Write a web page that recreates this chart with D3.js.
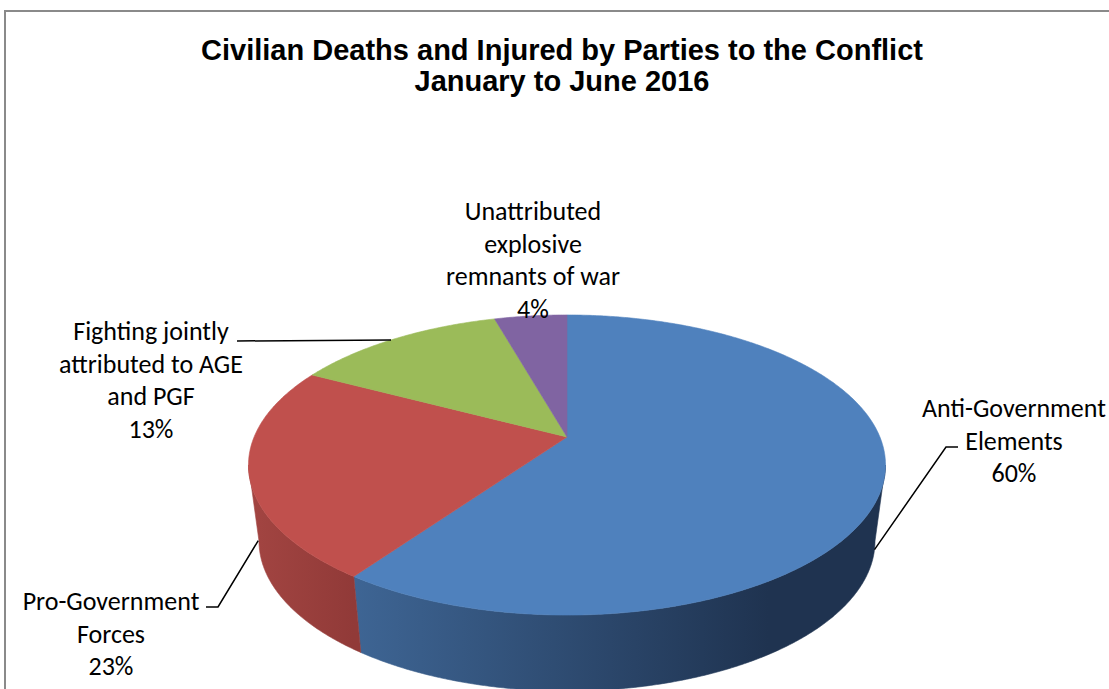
<!DOCTYPE html>
<html>
<head>
<meta charset="utf-8">
<script src="https://cdn.jsdelivr.net/npm/d3@7/dist/d3.min.js"></script>
<style>
  body { margin: 0; background: #fff; }
  svg { display: block; }
</style>
</head>
<body>
<div id="chart"></div>
<script>
// chart data
const titleLines = ["Civilian Deaths and Injured by Parties to the Conflict", "January to June 2016"];
const categories = ["Anti-Government Elements", "Pro-Government Forces",
  "Fighting jointly attributed to AGE and PGF", "Unattributed explosive remnants of war"];
const shares = [59.8, 22.9, 12.9, 4.4];
const labelLines = [
  ["Anti-Government", "Elements"],
  ["Pro-Government", "Forces"],
  ["Fighting jointly", "attributed to AGE", "and PGF"],
  ["Unattributed", "explosive", "remnants of war"]
];

// styling
const topColors = ["#4f81bd", "#c0504d", "#9bbb59", "#8064a2"];
const wallColors = [["#3e6594", "#1f3350"], ["#a34542", "#913a38"], ["#7d9847", "#7d9847"], ["#65508a", "#65508a"]];

// label layout: text centre/first baseline, leader polyline start and pie anchor (deg, radius, wall fraction)
const labelLayout = [
  { x: 1014, y: 417, lead: [[958, 447], [946, 447]], anchor: { deg: 104, r: 1, wall: 1 } },
  { x: 111, y: 610, lead: [[206, 607], [218, 607]], anchor: { deg: 256, r: 1, wall: 0.88 } },
  { x: 151, y: 340, lead: [[237, 341]], anchor: { deg: 320, r: 1, wall: 0 } },
  { x: 533, y: 220, lead: [], anchor: null }
];

const width = 1109, height = 689;
const lineGap = 32.5;

// 3D view of the pie (perspective on the top disc)
const cx = 567, cy = 437;
const F = 1485.7, D = 4.748;
const sinA = 0.4628, cosA = 0.8865;
const wallH = 76, wallShrink = 0.967;

function project(a, r) {
  const X = r * Math.sin(a), Y = r * Math.cos(a);
  const depth = D + Y * cosA;
  return [cx + F * X / depth, cy - F * (Y * sinA) / depth];
}
function projectWall(a, f) {
  const p = project(a, 1);
  return [p[0] + (cx - p[0]) * (1 - wallShrink) * f, p[1] + wallH * f];
}

const svg = d3.select("#chart").append("svg")
  .attr("width", width)
  .attr("height", height);

// chart area frame (runs off the right and bottom of the picture)
svg.append("rect")
  .attr("x", 5).attr("y", 11)
  .attr("width", 1200).attr("height", 800)
  .attr("fill", "#fff")
  .attr("stroke", "#8a8a8a")
  .attr("stroke-width", 2);

// title
svg.append("g").selectAll("text")
  .data(titleLines)
  .join("text")
  .attr("x", 562)
  .attr("y", (d, i) => 60 + i * 31)
  .attr("text-anchor", "middle")
  .style("font-family", "'Liberation Sans', Arial, sans-serif")
  .style("font-weight", "bold")
  .style("font-size", "29px")
  .text(d => d);

const pie = d3.pie().sort(null).value(d => d);
const arcs = pie(shares);
const total = d3.sum(shares);

const step = Math.PI / 360;
function sampleAngles(a0, a1) {
  const n = Math.max(2, Math.ceil((a1 - a0) / step));
  return d3.range(n + 1).map(i => a0 + (a1 - a0) * i / n);
}

// front wall is visible where the top rim faces the viewer
const aMin = Math.acos(-(cosA / D)), aMax = 2 * Math.PI - aMin;

const defs = svg.append("defs");
const walls = svg.append("g");
arcs.forEach((d, i) => {
  const a0 = Math.max(d.startAngle, aMin), a1 = Math.min(d.endAngle, aMax);
  if (a1 <= a0) return;
  const angles = sampleAngles(a0, a1);
  const topPts = angles.map(a => project(a, 1));
  const botPts = angles.map(a => projectWall(a, 1)).reverse();
  const xs = topPts.map(p => p[0]);
  const grad = defs.append("linearGradient")
    .attr("id", "wall" + i)
    .attr("gradientUnits", "userSpaceOnUse")
    .attr("x1", d3.min(xs)).attr("x2", d3.max(xs))
    .attr("y1", 0).attr("y2", 0);
  // the wall is lit from the left
  grad.append("stop").attr("offset", 0).attr("stop-color", wallColors[i][0]);
  grad.append("stop").attr("offset", i === 0 ? 0.78 : 1).attr("stop-color", wallColors[i][1]);
  grad.append("stop").attr("offset", 1).attr("stop-color", wallColors[i][1]);
  walls.append("path")
    .attr("d", d3.line().curve(d3.curveLinearClosed)(topPts.concat(botPts)))
    .attr("fill", `url(#wall${i})`)
    .attr("stroke", `url(#wall${i})`)
    .attr("stroke-width", 0.6);
});

// top faces
const tops = svg.append("g");
arcs.forEach((d, i) => {
  const pts = [[cx, cy]].concat(sampleAngles(d.startAngle, d.endAngle).map(a => project(a, 1)));
  tops.append("path")
    .attr("d", d3.line().curve(d3.curveLinearClosed)(pts))
    .attr("fill", topColors[i])
    .attr("stroke", topColors[i])
    .attr("stroke-width", 0.6);
});

// leader lines
const leaders = svg.append("g");
labelLayout.forEach(L => {
  if (!L.anchor) return;
  const a = L.anchor.deg * Math.PI / 180;
  const end = L.anchor.wall > 0 ? projectWall(a, L.anchor.wall) : project(a, L.anchor.r);
  leaders.append("path")
    .attr("d", d3.line()(L.lead.concat([end])))
    .attr("fill", "none")
    .attr("stroke", "#000")
    .attr("stroke-width", 1.5);
});

// data labels
const labels = svg.append("g")
  .style("font-family", "Carlito, Lato, 'Open Sans', sans-serif")
  .style("font-size", "26px")
  .attr("fill", "#000");
arcs.forEach((d, i) => {
  const L = labelLayout[i];
  const lines = labelLines[i].concat([Math.round(d.data / total * 100) + "%"]);
  labels.append("g").selectAll("text")
    .data(lines)
    .join("text")
    .attr("x", L.x)
    .attr("y", (t, k) => L.y + k * lineGap)
    .attr("text-anchor", "middle")
    .text(t => t);
});
</script>
</body>
</html>
